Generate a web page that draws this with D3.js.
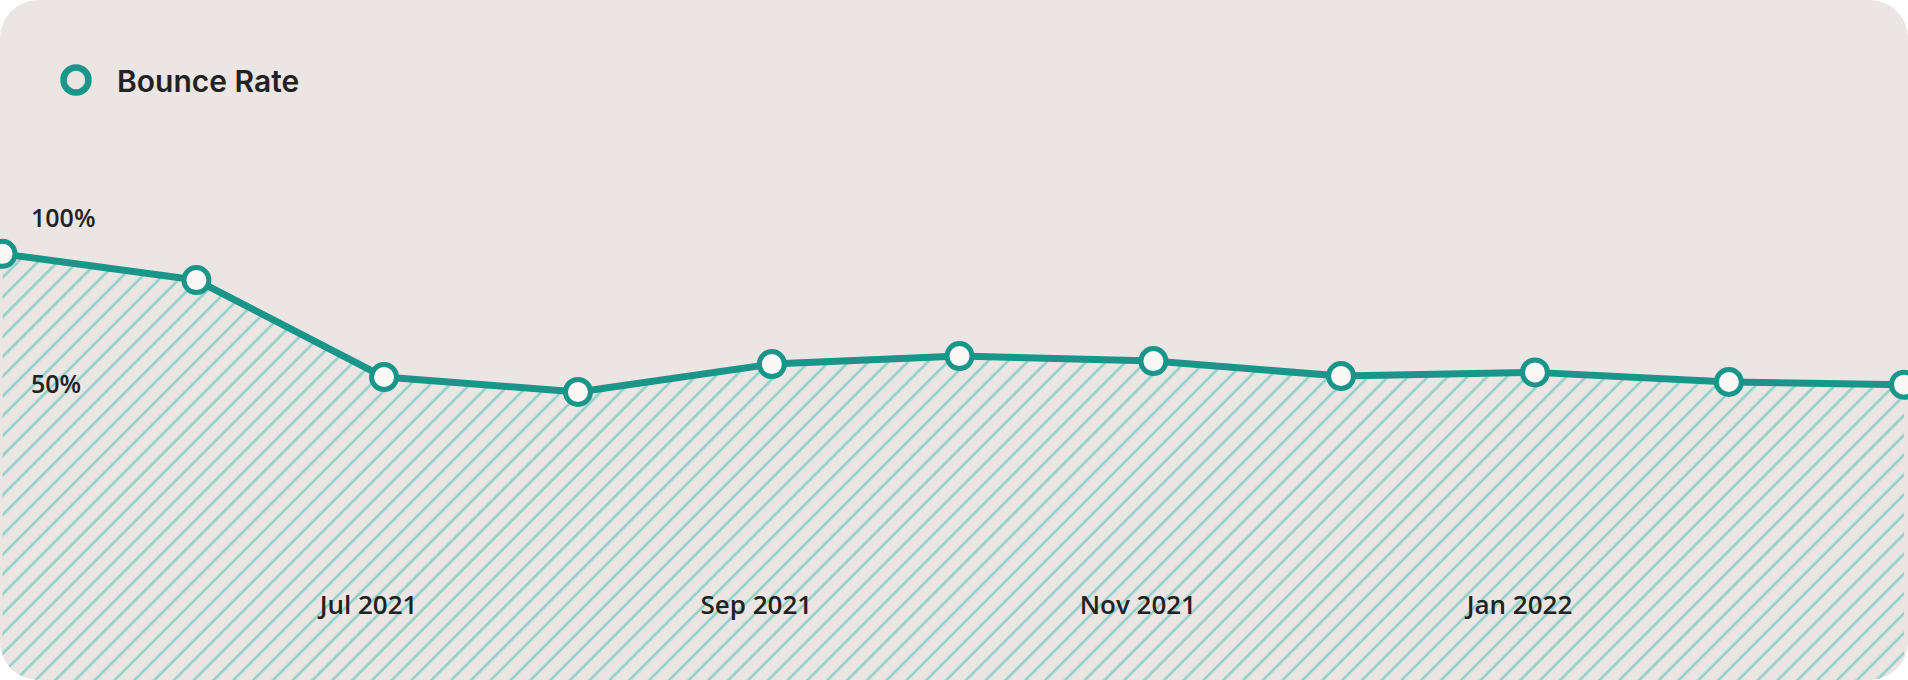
<!DOCTYPE html>
<html>
<head>
<meta charset="utf-8">
<script src="https://cdn.jsdelivr.net/npm/d3@7"></script>
<style>
  body { margin: 0; background: #ffffff; }
  svg { display: block; }
</style>
</head>
<body>
<div id="chart-area"></div>
<script>
// --- Data ---
var months = ["2021-05-01", "2021-06-01", "2021-07-01", "2021-08-01", "2021-09-01", "2021-10-01",
              "2021-11-01", "2021-12-01", "2022-01-01", "2022-02-01", "2022-03-01"];
var bounceRate = [88.9, 81.0, 51.8, 47.3, 55.7, 58.1, 56.6, 52.1, 53.2, 50.3, 49.5];
var xTickMonths = ["2021-07-01", "2021-09-01", "2021-11-01", "2022-01-01"];
var yTickValues = [50, 100];
var seriesName = "Bounce Rate";

var width = 1908, height = 680;
var teal = "#19958a";

var parse = d3.timeParse("%Y-%m-%d");
var data = months.map(function(m, i) { return {date: parse(m), value: bounceRate[i]}; });

var svg = d3.select("#chart-area").append("svg")
    .attr("width", width)
    .attr("height", height);

var defs = svg.append("defs");

// card shape (rounded) used as clip
defs.append("clipPath").attr("id", "card")
    .append("rect")
        .attr("width", width)
        .attr("height", height)
        .attr("rx", 38);

// diagonal hatch
var pattern = defs.append("pattern")
    .attr("id", "hatch")
    .attr("patternUnits", "userSpaceOnUse")
    .attr("width", 14)
    .attr("height", 14)
    .attr("patternTransform", "rotate(45)");
pattern.append("line")
    .attr("x1", 2).attr("y1", 0)
    .attr("x2", 2).attr("y2", 14)
    .attr("stroke", "#8fd0c7")
    .attr("stroke-width", 2.6);

var group = svg.append("g").attr("clip-path", "url(#card)");

group.append("rect")
    .attr("width", width)
    .attr("height", height)
    .attr("fill", "#ebe6e3");

// --- Scales ---
var x = d3.scaleTime()
    .domain(d3.extent(data, function(d) { return d.date; }))
    .range([2.5, 1904]);

var y = d3.scaleLinear()
    .domain([0, 100])
    .range([549, 217]);

// --- Area + line ---
var area = d3.area()
    .x(function(d) { return x(d.date); })
    .y0(height)
    .y1(function(d) { return y(d.value); });

group.append("path")
    .datum(data)
    .attr("d", area)
    .attr("fill", "url(#hatch)");

// --- Axes ---
var xAxis = d3.axisBottom(x)
    .tickValues(xTickMonths.map(parse))
    .tickFormat(d3.timeFormat("%b %Y"))
    .tickSize(0)
    .tickPadding(0);

var xAxisGroup = group.append("g")
    .attr("transform", "translate(0, 614)")
    .call(xAxis);
xAxisGroup.select(".domain").remove();
xAxisGroup.selectAll("text")
    .attr("y", 0)
    .attr("dy", 0)
    .attr("dx", -16)
    .attr("fill", "#222222")
    .attr("font-family", "'Open Sans', sans-serif")
    .attr("font-weight", 600)
    .attr("font-size", "26px");

var yAxis = d3.axisRight(y)
    .tickValues(yTickValues)
    .tickFormat(function(d) { return d + "%"; })
    .tickSize(0)
    .tickPadding(0);

var yAxisGroup = group.append("g")
    .attr("transform", "translate(31, 0)")
    .call(yAxis);
yAxisGroup.select(".domain").remove();
yAxisGroup.selectAll("text")
    .attr("x", 0)
    .attr("dy", "0.36em")
    .attr("fill", "#222222")
    .attr("font-family", "'Open Sans', sans-serif")
    .attr("font-weight", 600)
    .attr("font-size", "25px");

var line = d3.line()
    .x(function(d) { return x(d.date); })
    .y(function(d) { return y(d.value); });

group.append("path")
    .datum(data)
    .attr("d", line)
    .attr("fill", "none")
    .attr("stroke", teal)
    .attr("stroke-width", 7)
    .attr("stroke-linejoin", "round");

group.selectAll("circle.point")
    .data(data)
    .enter()
    .append("circle")
        .attr("class", "point")
        .attr("cx", function(d) { return x(d.date); })
        .attr("cy", function(d) { return y(d.value); })
        .attr("r", 12.5)
        .attr("fill", "#faf9f8")
        .attr("stroke", teal)
        .attr("stroke-width", 5);

// --- Legend ---
var legend = group.append("g").attr("transform", "translate(76, 80)");
legend.append("circle")
    .attr("r", 12.5)
    .attr("fill", "none")
    .attr("stroke", teal)
    .attr("stroke-width", 6.5);
legend.append("text")
    .attr("x", 41)
    .attr("y", 12)
    .text(seriesName)
    .attr("fill", "#222222")
    .attr("font-family", "Inter, sans-serif")
    .attr("font-weight", 600)
    .attr("font-size", "30px");
</script>
</body>
</html>
